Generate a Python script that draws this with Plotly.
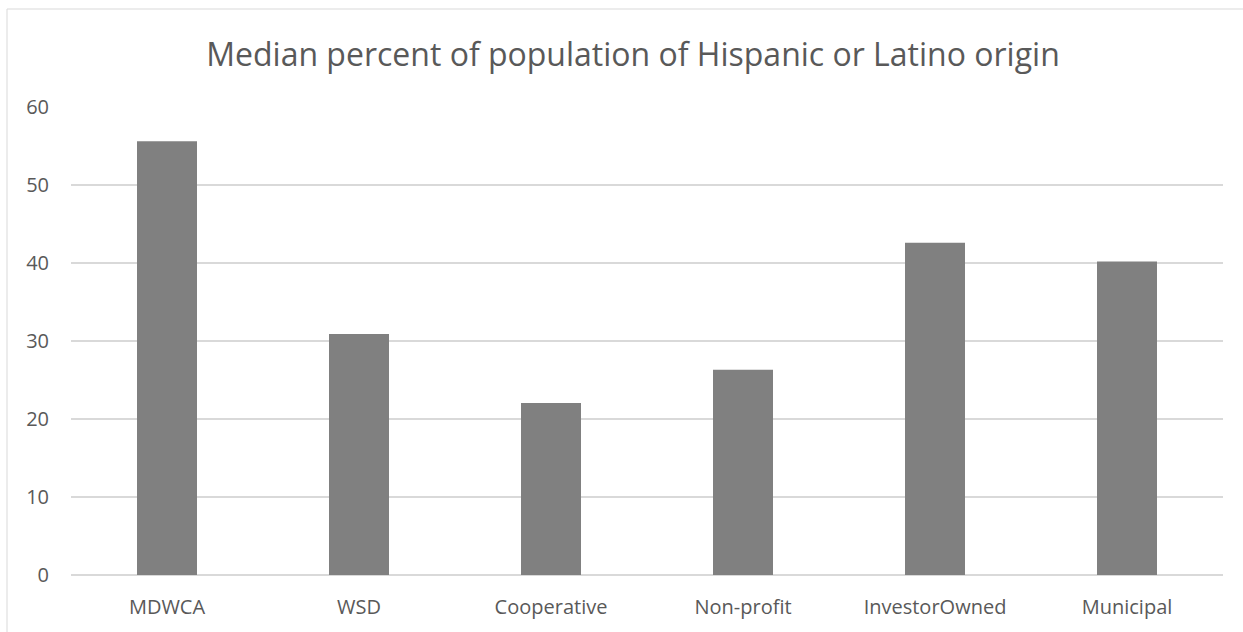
import plotly.graph_objects as go

categories = ["MDWCA", "WSD", "Cooperative", "Non-profit", "InvestorOwned", "Municipal"]
values = [55.6, 30.9, 22.05, 26.3, 42.6, 40.2]
y_ticks = [0, 10, 20, 30, 40, 50, 60]
title_text = "Median percent of population of Hispanic or Latino origin"

W, H = 1243, 632
L, R, T, B = 71, 20, 107, 57
pw, ph = W - L - R, H - T - B

fig = go.Figure()
fig.add_trace(go.Bar(
    x=categories, y=values,
    marker=dict(color="#808080", line=dict(width=0)),
    hoverinfo="x+y",
))

# outer chart border (Excel chart area)
bx0 = (7 - L) / pw
bx1 = (1262 - L) / pw
by1 = (H - B - 9) / ph
by0 = (H - B - 700) / ph
fig.add_shape(type="rect", xref="paper", yref="paper",
              x0=bx0, x1=bx1, y0=by0, y1=by1,
              line=dict(color="#d9d9d9", width=1), fillcolor="rgba(0,0,0,0)", layer="below")

fig.update_layout(
    width=W, height=H,
    margin=dict(l=L, r=R, t=T, b=B, pad=0),
    paper_bgcolor="white", plot_bgcolor="white",
    font=dict(family="Open Sans", color="#595959", size=20),
    title=dict(text=title_text, x=633 / W, xref="container", xanchor="center",
               y=1 - 55 / H, yref="container", yanchor="middle",
               font=dict(family="Open Sans", size=32, color="#595959")),
    bargap=0.6875,
    showlegend=False,
    xaxis=dict(showgrid=False, showline=False, zeroline=False, ticks="",
               tickfont=dict(size=20, color="#595959"), ticklabelstandoff=18),
    yaxis=dict(range=[0, 60], tickvals=y_ticks, showgrid=True, gridcolor="#d9d9d9",
               gridwidth=1.5, zeroline=True, zerolinecolor="#d9d9d9", zerolinewidth=1.5,
               showline=False, ticks="", tickfont=dict(size=20, color="#595959"),
               ticklabelstandoff=21),
)

fig.write_html("out.html")
